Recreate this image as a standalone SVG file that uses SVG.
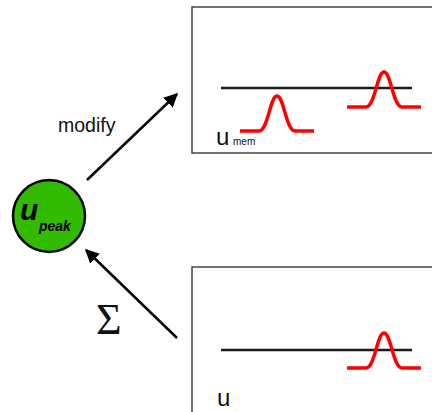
<svg xmlns="http://www.w3.org/2000/svg" width="432" height="412" viewBox="0 0 432 412">
<defs>
<style>
.box{fill:#fff;stroke:#444;stroke-width:1.5}
.hline{stroke:#1a1a1a;stroke-width:2.5;fill:none}
.spike{stroke:#ff0000;stroke-width:3.5;fill:none;stroke-linejoin:round}
.conn{stroke:#000;stroke-width:2.5;fill:none}
.lbl{font-family:"Liberation Sans",Arial,sans-serif;fill:#111}
</style>
<marker id="ah" viewBox="0 0 10 10" refX="9" refY="5" markerWidth="5.6" markerHeight="5.6" orient="auto" markerUnits="strokeWidth">
<path d="M0,0 L10,5 L0,10 z" fill="#000"/>
</marker>
</defs>
<rect width="432" height="412" fill="#fff"/>
<g id="connectors">
<line class="conn" x1="87" y1="180" x2="177" y2="94" marker-end="url(#ah)"/>
<line class="conn" x1="177" y1="338" x2="86" y2="250" marker-end="url(#ah)"/>
<text class="lbl" x="58" y="132" font-size="19.5">modify</text>
<text x="96" y="334" font-size="44" font-family="'Liberation Serif','Times New Roman',serif" fill="#111">Σ</text>
</g>
<g id="upeak">
<circle cx="49" cy="216" r="36" fill="#33bb00" stroke="#000" stroke-width="2.5"/>
<text x="20" y="220" font-size="30" font-weight="bold" font-style="italic" font-family="'Liberation Sans',Arial,sans-serif" fill="#000">u</text>
<text x="39" y="231" font-size="14" font-weight="bold" font-style="italic" font-family="'Liberation Sans',Arial,sans-serif" fill="#000">peak</text>
</g>
<g id="umem-panel">
<rect class="box" x="192" y="7" width="250" height="146"/>
<line class="hline" x1="221" y1="88" x2="412" y2="88"/>
<path class="spike" d="M240,131 L259,131 C268,131 270,96 277,96 C284,96 286,131 295,131 L314,131"/>
<path class="spike" d="M347,107 L366,107 C375,107 377,72 384,72 C391,72 393,107 402,107 L421,107"/>
<text class="lbl" x="216" y="145" font-size="24">u</text>
<text class="lbl" x="233" y="145" font-size="10">mem</text>
</g>
<g id="u-panel">
<rect class="box" x="192" y="267" width="250" height="160"/>
<line class="hline" x1="221" y1="350" x2="412" y2="350"/>
<path class="spike" d="M347,368 L366,368 C375,368 377,333 384,333 C391,333 393,368 402,368 L421,368"/>
<text class="lbl" x="217" y="406" font-size="24">u</text>
</g>
</svg>
